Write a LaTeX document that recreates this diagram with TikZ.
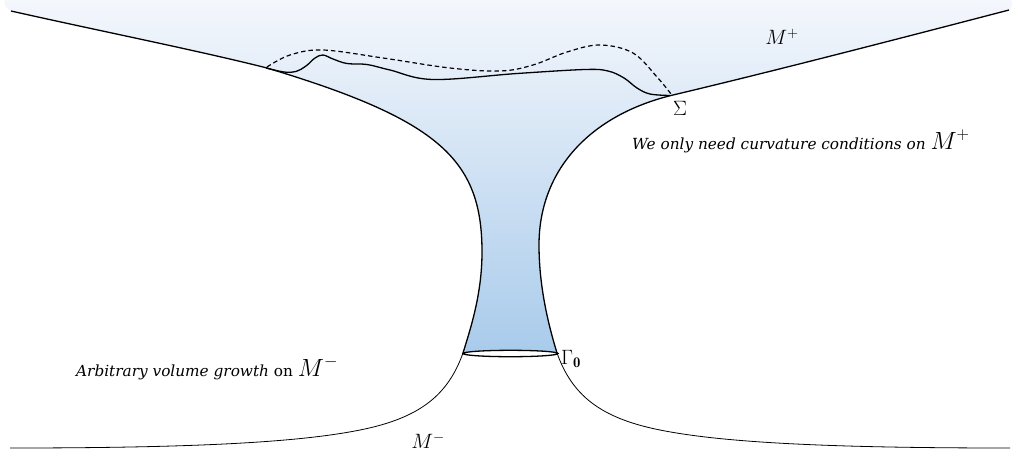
\documentclass[tikz,border=0pt]{standalone}
\usepackage{fontspec}
\newfontfamily\notefont{DejaVu Serif}
\begin{document}
\begin{tikzpicture}[x=1pt,y=-1pt,
  thickcurve/.style={line width=1.3pt},
  thincurve/.style={line width=0.8pt},
  dashcurve/.style={line width=1.2pt,dash pattern=on 4.5pt off 3pt},
  mathlabel/.style={inner sep=0pt,font=\fontsize{21}{25}\selectfont},
  notelabel/.style={inner sep=0pt,anchor=base west,font=\fontsize{15.3}{18}\selectfont\notefont}]
\useasboundingbox (0,0) rectangle (1016,456);
\definecolor{topblue}{HTML}{F4F7FC}
\definecolor{botblue}{HTML}{A9CBEB}
% shaded region
\shade[top color=topblue,bottom color=botblue]
  (11,11) .. controls (6,9) and (3,4) .. (5,0) -- (1011,0) .. controls (1013,4) and (1012,8) .. (1009,10)
  .. controls (890,41) and (770,72) .. (673,95)
  .. controls (590,115) and (539,170) .. (539,245)
  .. controls (539,290) and (550,330) .. (557,353)
  -- (463,353)
  .. controls (470,330) and (482,295) .. (482,252)
  .. controls (482,160) and (440,120) .. (267,68)
  .. controls (200,51) and (100,31) .. (11,11) -- cycle;
% upper boundary curves
\draw[thickcurve] (11,11) .. controls (100,31) and (200,51) .. (267,68)
  .. controls (440,120) and (482,160) .. (482,252)
  .. controls (482,295) and (470,330) .. (463,353);
\draw[thickcurve] (1009,10) .. controls (890,41) and (770,72) .. (673,95)
  .. controls (590,115) and (539,170) .. (539,245)
  .. controls (539,290) and (550,330) .. (557,353);
% lower curves
\draw[thincurve] (463,353) .. controls (448,395) and (420,418) .. (360,430)
  .. controls (300,442) and (200,448) .. (10,448);
\draw[thincurve] (557,353) .. controls (572,395) and (600,418) .. (660,430)
  .. controls (720,442) and (820,448) .. (1010,448);
% Gamma_0 ellipse
\draw[thickcurve,fill=white] (510.5,353.5) ellipse [x radius=47.5pt,y radius=3.2pt];
% Sigma curves
\draw[thickcurve] plot[smooth,tension=0.6] coordinates {(266,68) (284,72) (296,71.5) (306,66) (315,58) (323,55) (333,59) (347,63.5) (367,64.5) (390,70) (433,79.5) (517,73.5) (585,69.5) (608,71) (624,78) (637,88) (650,94) (670,95.5)};
\draw[dashcurve] plot[smooth,tension=0.6] coordinates {(267,67) (290,55) (323,50) (383,58) (450,68) (500,71) (533,65) (567,52) (600,45) (633,53) (657,77) (671,94)};
% labels
\node[mathlabel] (mplus) at (782,37) {$M^+$};
\node[mathlabel] (sigma) at (680,108) {$\Sigma$};
\node[mathlabel,anchor=west] (gamma) at (561,359) {$\Gamma_{\mathbf{0}}$};
\node[mathlabel] (mminus) at (428,441) {$M^-$};
\node[notelabel] (noteplus) at (632,149) {\itshape We only need curvature conditions on \fontsize{23}{27}\selectfont$M^+$};
\node[notelabel] (noteminus) at (76,376) {\itshape Arbitrary volume growth\upshape{} on \fontsize{23}{27}\selectfont$M^-$};
\end{tikzpicture}
\end{document}
